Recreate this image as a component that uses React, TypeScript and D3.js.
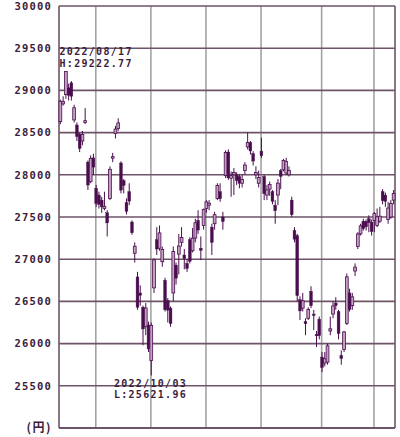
import React from "react";
import * as d3 from "d3";

const dates = ["2022-08-15","2022-08-16","2022-08-17","2022-08-18","2022-08-19","2022-08-22","2022-08-23","2022-08-24","2022-08-25","2022-08-26","2022-08-29","2022-08-30","2022-08-31",
"2022-09-01","2022-09-02","2022-09-05","2022-09-06","2022-09-07","2022-09-08","2022-09-09","2022-09-12","2022-09-13","2022-09-14","2022-09-15","2022-09-16","2022-09-20","2022-09-21","2022-09-22","2022-09-26","2022-09-27","2022-09-28","2022-09-29","2022-09-30",
"2022-10-03","2022-10-04","2022-10-05","2022-10-06","2022-10-07","2022-10-11","2022-10-12","2022-10-13","2022-10-14","2022-10-17","2022-10-18","2022-10-19","2022-10-20","2022-10-21","2022-10-24","2022-10-25","2022-10-26","2022-10-27","2022-10-28","2022-10-31",
"2022-11-01","2022-11-02","2022-11-04","2022-11-07","2022-11-08","2022-11-09","2022-11-10","2022-11-11","2022-11-14","2022-11-15","2022-11-16","2022-11-17","2022-11-18","2022-11-21","2022-11-22","2022-11-24","2022-11-25","2022-11-28","2022-11-29","2022-11-30",
"2022-12-01","2022-12-02","2022-12-05","2022-12-06","2022-12-07","2022-12-08","2022-12-09","2022-12-12","2022-12-13","2022-12-14","2022-12-15","2022-12-16","2022-12-19","2022-12-20","2022-12-21","2022-12-22","2022-12-23","2022-12-26","2022-12-27","2022-12-28","2022-12-29","2022-12-30",
"2023-01-04","2023-01-05","2023-01-06","2023-01-10","2023-01-11","2023-01-12","2023-01-13","2023-01-16","2023-01-17","2023-01-18","2023-01-19","2023-01-20","2023-01-23","2023-01-24","2023-01-25","2023-01-26","2023-01-27","2023-01-30","2023-01-31",
"2023-02-01","2023-02-02","2023-02-03","2023-02-06","2023-02-07","2023-02-08","2023-02-09","2023-02-10"];

const opens = [28630,28840,28950,29030,29090,28650,28590,28480,28400,28620,28150,27920,28200,
27840,27760,27700,27600,27550,27720,28200,28490,28550,28140,27930,27670,27800,27440,27070,26790,26600,26430,26200,26220,
25800,26660,27230,27130,26970,26750,26510,26420,26600,26930,27060,27200,27050,26950,27230,27100,27250,27460,27130,27400,
27600,27640,27380,27420,27720,27800,27500,27990,28270,27960,28000,28000,27980,27900,28050,28330,28380,28250,28000,27900,
28280,27980,27760,27830,27800,27640,27760,28050,28060,28020,28000,27700,27340,27280,26520,26420,26260,26300,26620,26350,26110,26290,
25840,25770,25780,26150,26350,26480,26380,25860,25930,26240,26600,26450,26860,27150,27300,27450,27450,27480,27440,
27460,27400,27450,27800,27760,27470,27500,27700];

const highs = [28890,28930,29222.77,29080,29110,28830,28620,28500,28520,28790,28170,28230,28250,
27880,27800,27740,27800,27580,28100,28260,28580,28670,28160,27950,27720,27900,27460,27200,26850,26690,26450,26480,26260,
26250,27010,27380,27400,27150,26780,26540,26440,27150,26960,27300,27380,27120,27000,27260,27370,27480,27580,27270,27600,
27700,27700,27420,27560,27900,27900,27560,28290,28300,28040,28080,28030,28010,28000,28150,28500,28400,28280,28100,28050,
28440,28000,27880,27920,27820,27700,27950,28070,28190,28200,28100,27740,27380,27300,26560,26600,26300,26430,26680,26400,26150,26320,
25900,25900,26000,26320,26500,26550,26400,25920,26150,26830,26650,26600,26950,27320,27420,27480,27470,27520,27470,
27560,27600,27620,27830,27790,27680,27700,27820];

const lows = [28600,28820,28900,28880,28880,28620,28400,28270,28350,28600,27820,27900,28000,
27620,27600,27550,27580,27270,27700,28150,28430,28520,27780,27780,27530,27640,27290,26960,26400,26450,25980,26100,25900,
25621.96,26600,27050,27100,26910,26380,26250,26200,26500,26700,26820,27150,26880,26850,26950,27080,27200,27300,26990,27350,
27550,27580,27050,27350,27700,27680,27350,27960,27940,27740,27760,27880,27840,27850,28000,28300,28240,28110,27950,27850,
28200,27700,27700,27750,27650,27420,27640,27830,28040,28000,27980,27500,27200,26500,26280,26380,26100,26280,26420,26160,25960,26050,
25661,25730,25750,26100,26300,26400,26050,25750,25900,26220,26380,26400,26800,27120,27280,27340,27340,27320,27280,
27320,27380,27430,27650,27620,27420,27480,27650];

const closes = [28871.78,28868.91,29222.77,28942.14,28930.33,28794.5,28452.75,28313.47,28479.01,28641.38,27878.96,28195.58,28091.53,
27661.47,27650.84,27619.61,27626.51,27430.3,28065.28,28214.75,28542.11,28614.63,27818.62,27875.91,27567.65,27688.42,27313.13,27153.83,26431.55,26571.87,26173.98,26422.05,25937.21,
26215.79,26992.21,27120.53,27311.3,27116.11,26401.25,26396.83,26237.42,27090.76,26775.79,27156.14,27257.38,27006.96,26890.58,26974.9,27250.28,27431.84,27345.24,27105.2,27587.46,
27678.92,27663.39,27199.74,27527.64,27872.11,27716.43,27446.1,28263.57,27963.47,27990.17,28028.3,27930.57,27899.77,27944.79,28115.74,28383.09,28283.03,28162.83,28027.84,27968.99,
28226.08,27777.9,27820.4,27885.87,27686.4,27574.43,27901.01,27980,28170,28156.21,28051.7,27527.12,27237.64,26568.03,26387.72,26507.87,26235.25,26405.87,26447.87,26340.5,26093.67,26094.5,
25716.86,25820.8,25973.85,26175.56,26446,26449.82,26119.52,25822.32,26138.68,26791.12,26405.23,26553.53,26906.04,27299.19,27395.01,27362.75,27382.56,27433.4,27327.11,
27540,27502,27509.46,27693.65,27685.47,27606.46,27660,27780];

const yTicks = [30000,29500,29000,28500,28000,27500,27000,26500,26000,25500];
const unitLabel = "(円)";
const highNote = ["2022/08/17", "H:29222.77"];
const lowNote = ["2022/10/03", "L:25621.96"];

const W = 400, H = 437;
const L = 59, R = 395, T = 6, B = 428;
const TEXT = "#3b1c3b";
const DARK = "#4a0e4e";
const LIGHT = "#c4a0c4";
const HGRID = "#6e5468";
const VGRID = "#a3a3a3";
const MONO = "'DejaVu Sans Mono', 'Liberation Mono', monospace";

export default function App() {
  const x = d3.scaleBand<string>().domain(dates).range([L, R]).padding(0);
  const y = d3.scaleLinear().domain([25000, 30000]).range([B, T]);
  const bw = x.bandwidth();
  const monthStarts = dates.filter((d, i) => i > 0 && d.slice(0, 7) !== dates[i - 1].slice(0, 7));
  const hiIdx = highs.indexOf(d3.max(highs) as number);
  const loIdx = lows.indexOf(d3.min(lows) as number);

  return (
    <svg width={W} height={H} style={{ position: "absolute", left: 0, top: 0, background: "#fff" }}>
      <rect x={0} y={0} width={W} height={H} fill="#fff" />
      {monthStarts.map((d) => (
        <line key={d} x1={(x(d) as number) + 1} x2={(x(d) as number) + 1} y1={T} y2={B} stroke={VGRID} strokeWidth={1.6} />
      ))}
      {yTicks.map((v) => (
        <line key={v} x1={L} x2={R} y1={y(v)} y2={y(v)} stroke={HGRID} strokeWidth={1.6} />
      ))}
      <line x1={L} x2={R} y1={B} y2={B} stroke={HGRID} strokeWidth={1.8} />
      <line x1={L} x2={L} y1={T} y2={B} stroke={HGRID} strokeWidth={1.6} />
      <line x1={R} x2={R} y1={T} y2={B} stroke={HGRID} strokeWidth={1.6} />
      {dates.map((d, i) => {
        const cx = (x(d) as number) + bw / 2;
        const up = closes[i] >= opens[i];
        const top = y(Math.max(opens[i], closes[i]));
        const bot = y(Math.min(opens[i], closes[i]));
        const h = Math.max(1.5, bot - top);
        return (
          <g key={d}>
            <line x1={cx} x2={cx} y1={y(highs[i])} y2={y(lows[i])} stroke={DARK} strokeWidth={1} />
            <rect x={cx - 1.4} y={top} width={2.8} height={h} fill={up ? LIGHT : DARK} stroke={DARK} strokeWidth={up ? 0.8 : 0.4} />
          </g>
        );
      })}
      {yTicks.map((v) => (
        <text key={"t" + v} x={52} y={y(v)} dy="0.36em" textAnchor="end" fontFamily={MONO} fontWeight="bold" fontSize={10.5} letterSpacing={1.2} fill={TEXT}>
          {v}
        </text>
      ))}
      <text x={52} y={B} dy="0.36em" textAnchor="end" fontFamily="'Noto Sans CJK JP', sans-serif" fontWeight="bold" fontSize={12} letterSpacing={1.5} fill={TEXT}>
        {unitLabel}
      </text>
      <g fontFamily={MONO} fontSize={10} letterSpacing={1.3} fill={TEXT} fontWeight="bold">
        <text x={(x(dates[hiIdx]) as number) - 5} y={y(highs[hiIdx]) - 17}>{highNote[0]}</text>
        <text x={(x(dates[hiIdx]) as number) - 5} y={y(highs[hiIdx]) - 5}>{highNote[1]}</text>
        <text x={(x(dates[loIdx]) as number) - 36} y={y(lows[loIdx]) + 11}>{lowNote[0]}</text>
        <text x={(x(dates[loIdx]) as number) - 36} y={y(lows[loIdx]) + 22}>{lowNote[1]}</text>
      </g>
    </svg>
  );
}
